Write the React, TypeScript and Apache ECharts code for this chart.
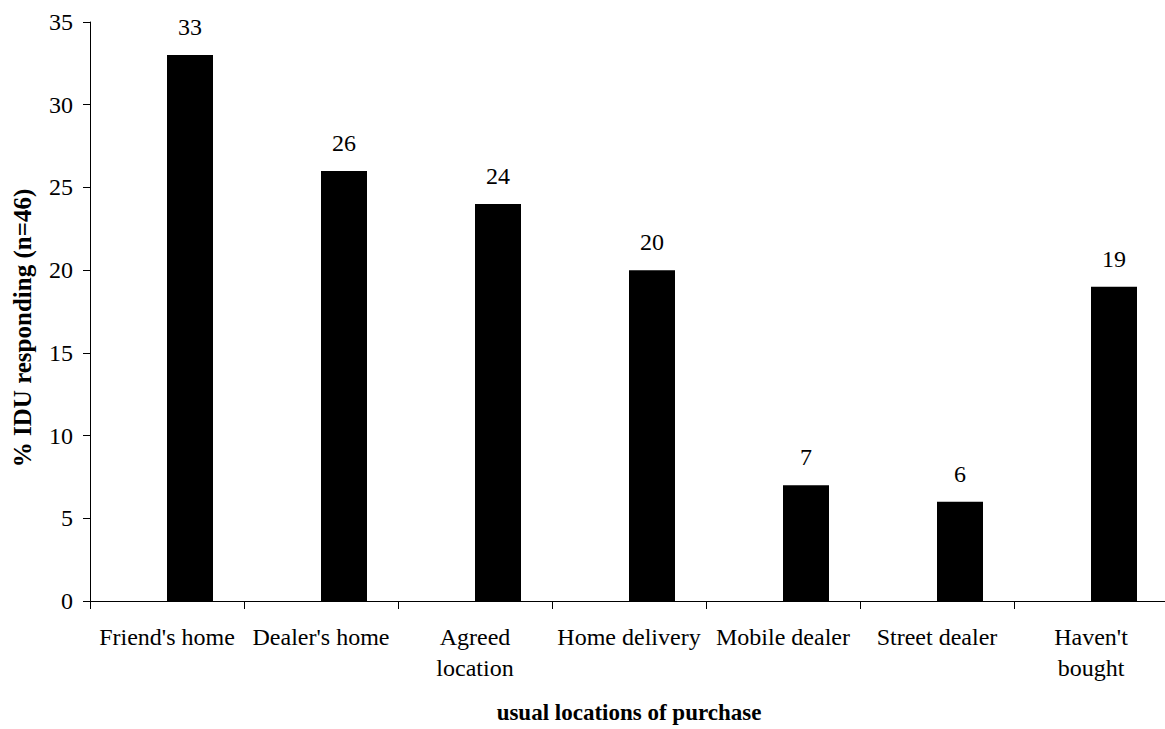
import React, { useEffect, useRef } from "react";
import * as echarts from "echarts";

const categories = [
  "Friend's home",
  "Dealer's home",
  "Agreed\nlocation",
  "Home delivery",
  "Mobile dealer",
  "Street dealer",
  "Haven't\nbought",
];
const values = [33, 26, 24, 20, 7, 6, 19];
const emptySeries = [null, null, null, null, null, null, null];
const yTicks = { min: 0, max: 35, interval: 5 };
const xTitle = "usual locations of purchase";
const yTitle = "% IDU responding (n=46)";

const FONT = "Liberation Serif";

export default function App() {
  const ref = useRef<HTMLDivElement>(null);
  useEffect(() => {
    const chart = echarts.init(ref.current!, null, { renderer: "svg" });
    chart.setOption({
      animation: false,
      backgroundColor: "#ffffff",
      textStyle: { fontFamily: FONT, color: "#000" },
      grid: {
        left: 90,
        top: 22,
        width: 1078,
        height: 579,
        containLabel: false,
        outerBoundsMode: "none",
      },
      graphic: [
        {
          type: "text",
          x: 22,
          y: 328,
          rotation: Math.PI / 2,
          style: {
            text: yTitle,
            fontFamily: FONT,
            fontSize: 25,
            fontWeight: "bold",
            fill: "#000",
            align: "center",
            verticalAlign: "middle",
          },
        },
        {
          type: "text",
          x: 629,
          y: 712,
          style: {
            text: xTitle,
            fontFamily: FONT,
            fontSize: 23,
            fontWeight: "bold",
            fill: "#000",
            align: "center",
            verticalAlign: "middle",
          },
        },
      ],
      xAxis: {
        type: "category",
        data: categories,
        boundaryGap: true,
        axisLine: { lineStyle: { color: "#000", width: 1 } },
        axisTick: { show: true, length: 8, alignWithLabel: false, lineStyle: { color: "#000" } },
        axisLabel: {
          color: "#000",
          fontFamily: FONT,
          fontSize: 24,
          margin: 20,
          lineHeight: 31,
          interval: 0,
        },
      },
      yAxis: {
        type: "value",
        min: yTicks.min,
        max: yTicks.max,
        interval: yTicks.interval,
        splitLine: { show: false },
        axisLine: { show: true, lineStyle: { color: "#000", width: 1 } },
        axisTick: { show: true, length: 7, lineStyle: { color: "#000" } },
        axisLabel: { color: "#000", fontFamily: FONT, fontSize: 24, margin: 17 },
      },
      series: [
        {
          type: "bar",
          data: emptySeries,
          barWidth: 46,
          barGap: "0%",
          itemStyle: { color: "#000" },
        },
        {
          type: "bar",
          data: values,
          barWidth: 46,
          barGap: "0%",
          itemStyle: { color: "#000" },
          label: {
            show: true,
            position: "top",
            distance: 16,
            color: "#000",
            fontFamily: FONT,
            fontSize: 24,
          },
        },
      ],
    });
    return () => chart.dispose();
  }, []);
  return (
    <div
      ref={ref}
      style={{ position: "fixed", left: 0, top: 0, width: 1165, height: 729, background: "#fff" }}
    />
  );
}
